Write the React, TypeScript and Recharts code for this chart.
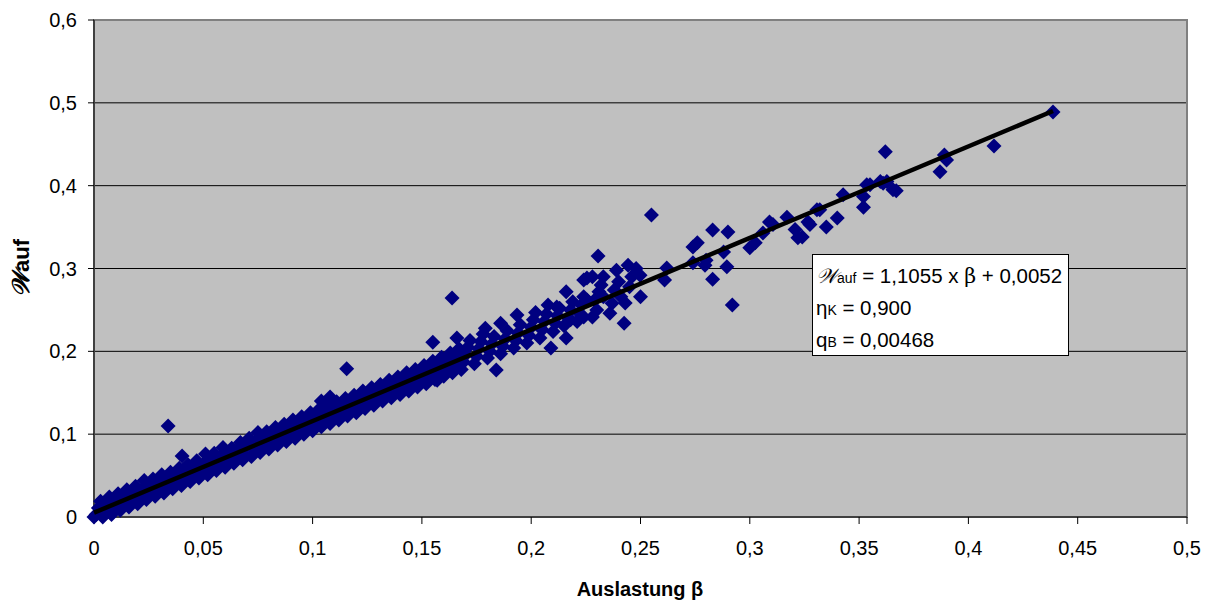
import React from "react";
import {
  ScatterChart,
  Scatter,
  XAxis,
  YAxis,
  CartesianGrid,
  ReferenceArea,
} from "recharts";

// Auslastung β vs. w_auf
const lowBand: [number, number][] = [
  [0.0, 0.0], [0.001, 0.003], [0.002, 0.011], [0.003, 0.019],
  [0.004, 0.0], [0.005, 0.007], [0.006, 0.015], [0.007, 0.024],
  [0.008, 0.003], [0.009, 0.012], [0.01, 0.02], [0.011, 0.028],
  [0.012, 0.008], [0.013, 0.016], [0.014, 0.024], [0.015, 0.033],
  [0.016, 0.012], [0.017, 0.02], [0.018, 0.029], [0.019, 0.037],
  [0.02, 0.016], [0.021, 0.025], [0.022, 0.033], [0.023, 0.044],
  [0.024, 0.021], [0.025, 0.029], [0.026, 0.038], [0.027, 0.046],
  [0.028, 0.025], [0.029, 0.034], [0.03, 0.042], [0.031, 0.051],
  [0.032, 0.029], [0.033, 0.036], [0.034, 0.046], [0.035, 0.054],
  [0.036, 0.034], [0.037, 0.042], [0.038, 0.051], [0.039, 0.059],
  [0.04, 0.038], [0.041, 0.047], [0.042, 0.055], [0.043, 0.063],
  [0.044, 0.043], [0.045, 0.049], [0.046, 0.06], [0.047, 0.068],
  [0.048, 0.047], [0.049, 0.055], [0.05, 0.064], [0.051, 0.076],
  [0.052, 0.051], [0.053, 0.06], [0.054, 0.069], [0.055, 0.077],
  [0.056, 0.056], [0.057, 0.064], [0.058, 0.073], [0.059, 0.084],
  [0.06, 0.06], [0.061, 0.069], [0.062, 0.077], [0.063, 0.083],
  [0.064, 0.065], [0.065, 0.073], [0.066, 0.082], [0.067, 0.09],
  [0.068, 0.069], [0.069, 0.075], [0.07, 0.086], [0.071, 0.095],
  [0.072, 0.073], [0.073, 0.082], [0.074, 0.091], [0.075, 0.102],
  [0.076, 0.078], [0.077, 0.086], [0.078, 0.095], [0.079, 0.103],
];

const midBand: [number, number][] = [
  [0.08, 0.082], [0.081, 0.091], [0.082, 0.099], [0.083, 0.108],
  [0.084, 0.087], [0.085, 0.095], [0.086, 0.104], [0.087, 0.112],
  [0.088, 0.091], [0.089, 0.1], [0.09, 0.108], [0.091, 0.117],
  [0.092, 0.095], [0.093, 0.104], [0.094, 0.113], [0.095, 0.121],
  [0.096, 0.1], [0.097, 0.108], [0.098, 0.117], [0.099, 0.126],
  [0.1, 0.104], [0.101, 0.113], [0.102, 0.121], [0.103, 0.13],
  [0.104, 0.109], [0.105, 0.117], [0.106, 0.126], [0.107, 0.134], [0.104, 0.14],
  [0.108, 0.113], [0.109, 0.122], [0.11, 0.13], [0.111, 0.139], [0.108, 0.145],
  [0.112, 0.117], [0.113, 0.126], [0.114, 0.135], [0.115, 0.143],
  [0.116, 0.122], [0.117, 0.13], [0.118, 0.139], [0.119, 0.147],
  [0.12, 0.126], [0.121, 0.135], [0.122, 0.143], [0.123, 0.152],
  [0.124, 0.131], [0.125, 0.139], [0.126, 0.148], [0.127, 0.156],
  [0.128, 0.135], [0.129, 0.144], [0.13, 0.152], [0.131, 0.16],
  [0.132, 0.14], [0.133, 0.148], [0.134, 0.156], [0.135, 0.165],
  [0.136, 0.144], [0.137, 0.152], [0.138, 0.161], [0.139, 0.169],
  [0.14, 0.148], [0.141, 0.157], [0.142, 0.165], [0.143, 0.174],
  [0.144, 0.152], [0.145, 0.161], [0.146, 0.17], [0.147, 0.178],
  [0.148, 0.157], [0.149, 0.166], [0.15, 0.174], [0.151, 0.183],
  [0.152, 0.161], [0.153, 0.17], [0.154, 0.179], [0.155, 0.188], [0.155, 0.211], [0.157, 0.165],
  [0.156, 0.166], [0.157, 0.174], [0.158, 0.183], [0.159, 0.193],
  [0.16, 0.17], [0.161, 0.179], [0.162, 0.188], [0.163, 0.198], [0.166, 0.216],
  [0.164, 0.174], [0.165, 0.183], [0.166, 0.193], [0.167, 0.203],
];

const highBand: [number, number][] = [
  [0.168, 0.178], [0.169, 0.187], [0.17, 0.196], [0.171, 0.205], [0.172, 0.213],
  [0.174, 0.185], [0.175, 0.194], [0.176, 0.203], [0.177, 0.212], [0.178, 0.221],
  [0.18, 0.192], [0.181, 0.2], [0.182, 0.209], [0.183, 0.218], [0.179, 0.228],
  [0.186, 0.197], [0.187, 0.206], [0.188, 0.215], [0.189, 0.225], [0.186, 0.234], [0.184, 0.1775],
  [0.192, 0.204], [0.193, 0.213], [0.194, 0.222], [0.195, 0.232], [0.1935, 0.244],
  [0.198, 0.21], [0.199, 0.219], [0.2, 0.229], [0.201, 0.238], [0.202, 0.247],
  [0.204, 0.216], [0.205, 0.226], [0.206, 0.236], [0.207, 0.245], [0.2077, 0.256], [0.209, 0.204],
  [0.21, 0.224], [0.211, 0.234], [0.212, 0.243], [0.213, 0.252], [0.2117, 0.2536],
  [0.216, 0.216], [0.216, 0.272], [0.215, 0.231], [0.217, 0.24], [0.218, 0.25], [0.219, 0.26], [0.218, 0.238],
  [0.222, 0.246], [0.221, 0.236], [0.223, 0.256], [0.224, 0.2415], [0.224, 0.266], [0.224, 0.286],
  [0.2255, 0.262], [0.2255, 0.2886], [0.228, 0.29], [0.228, 0.2415], [0.229, 0.262], [0.23, 0.25],
  [0.231, 0.272], [0.233, 0.266], [0.233, 0.29], [0.232, 0.28], [0.236, 0.246], [0.237, 0.258],
  [0.238, 0.274], [0.239, 0.298], [0.24, 0.284], [0.241, 0.266], [0.2425, 0.234], [0.243, 0.2585],
  [0.2443, 0.304], [0.245, 0.278], [0.246, 0.29], [0.2498, 0.292], [0.25, 0.266], [0.248, 0.3],
];

const upperBand: [number, number][] = [
  [0.2306, 0.315], [0.255, 0.3647], [0.261, 0.286], [0.262, 0.3007], [0.274, 0.307], [0.274, 0.326],
  [0.276, 0.331], [0.2795, 0.304], [0.28, 0.31], [0.283, 0.287], [0.283, 0.3466], [0.288, 0.32],
  [0.2895, 0.302], [0.29, 0.344], [0.292, 0.256], [0.3, 0.325], [0.3025, 0.331], [0.306, 0.343],
  [0.309, 0.356], [0.3106, 0.353], [0.317, 0.362], [0.3207, 0.347], [0.322, 0.337], [0.324, 0.338],
  [0.3266, 0.356], [0.3275, 0.353], [0.3307, 0.371], [0.332, 0.371], [0.335, 0.35], [0.34, 0.361],
  [0.3427, 0.389], [0.352, 0.374], [0.352, 0.387], [0.3535, 0.401], [0.355, 0.401], [0.3597, 0.405],
  [0.361, 0.403], [0.362, 0.441], [0.3627, 0.405], [0.3655, 0.395], [0.367, 0.394], [0.387, 0.4167],
  [0.389, 0.437], [0.39, 0.431], [0.4117, 0.448], [0.4387, 0.489],
];

const outliers: [number, number][] = [
  [0.0339, 0.11], [0.0403, 0.0737], [0.1156, 0.179], [0.1638, 0.2645],
];

const xTicks = [0, 0.05, 0.1, 0.15, 0.2, 0.25, 0.3, 0.35, 0.4, 0.45, 0.5];
const yTicks = [0, 0.1, 0.2, 0.3, 0.4, 0.5, 0.6];

// Trendlinie: w = 1,1055 x β + 0,0052
const trendLine = [
  { beta: 0, w: 0.0052 },
  { beta: 0.4387, w: 0.4902 },
];

const points = [...lowBand, ...midBand, ...highBand, ...upperBand, ...outliers].map(
  ([beta, w]) => ({ beta, w })
);

const fmt = (v: number) => String(v).replace(".", ",");

const FONT = "'Liberation Sans', Arial, sans-serif";

const Diamond = (props: any) => {
  const { cx, cy } = props;
  const r = 7.5;
  return (
    <path
      d={`M${cx},${cy - r}L${cx + r},${cy}L${cx},${cy + r}L${cx - r},${cy}Z`}
      fill="#000080"
    />
  );
};

export default function App() {
  return (
    <div style={{ position: "absolute", left: 0, top: 0, width: 1208, height: 603, background: "#fff" }}>
      <ScatterChart
        width={1208}
        height={603}
        margin={{ top: 20, right: 21, bottom: 30, left: 30 }}
      >
        <CartesianGrid horizontal vertical={false} stroke="#000" fill="#C0C0C0" />
        <ReferenceArea
          x1={0}
          x2={0.5}
          y1={0}
          y2={0.6}
          fill="none"
          stroke="#808080"
          strokeWidth={2}
        />
        <XAxis
          type="number"
          dataKey="beta"
          domain={[0, 0.5]}
          ticks={xTicks}
          tickFormatter={fmt}
          tickSize={7}
          tickMargin={17}
          height={56}
          stroke="#000"
          tick={{ fill: "#000", fontSize: 20, fontFamily: FONT }}
          label={{
            content: () => (
              <text x={640} y={596} textAnchor="middle" fontFamily={FONT} fontSize={20} fontWeight="bold" fill="#000">
                Auslastung β
              </text>
            ),
          }}
        />
        <YAxis
          type="number"
          dataKey="w"
          domain={[0, 0.6]}
          ticks={yTicks}
          tickFormatter={fmt}
          tickSize={6}
          tickMargin={11}
          width={64}
          stroke="#000"
          tick={{ fill: "#000", fontSize: 20, fontFamily: FONT }}
          label={{
            content: () => (
              <text
                x={29}
                y={268}
                transform="rotate(-90 29 268)"
                textAnchor="middle"
                fontFamily={FONT}
                fontWeight="bold"
                fill="#000"
              >
                <tspan fontSize={24} fontStyle="italic" fontFamily="'DejaVu Serif', serif">𝒲</tspan>
                <tspan fontSize={22}>auf</tspan>
              </text>
            ),
          }}
        />
        <Scatter data={points} shape={Diamond} isAnimationActive={false} />
        <Scatter
          data={trendLine}
          line={{ stroke: "#000", strokeWidth: 4.5 }}
          shape={() => <g />}
          isAnimationActive={false}
        />
      </ScatterChart>
      <div
        style={{
          position: "absolute",
          left: 812,
          top: 254,
          width: 257,
          height: 102,
          background: "#fff",
          border: "1px solid #000",
          fontFamily: FONT,
          fontSize: 20.5,
          color: "#000",
          lineHeight: "30px",
          paddingTop: 6,
          paddingLeft: 3,
          boxSizing: "border-box",
          whiteSpace: "nowrap",
        }}
      >
        <div>
          <span style={{ fontFamily: "'DejaVu Serif', serif", fontStyle: "italic" }}>𝒲</span>
          <span style={{ fontSize: 14 }}>auf</span> = 1,1055 x <span style={{ fontFamily: "'DejaVu Serif', serif" }}>β</span> + 0,0052
        </div>
        <div>
          η<span style={{ fontSize: 14 }}>K</span> = 0,900
        </div>
        <div>
          q<span style={{ fontSize: 14 }}>B</span> = 0,00468
        </div>
      </div>
    </div>
  );
}
